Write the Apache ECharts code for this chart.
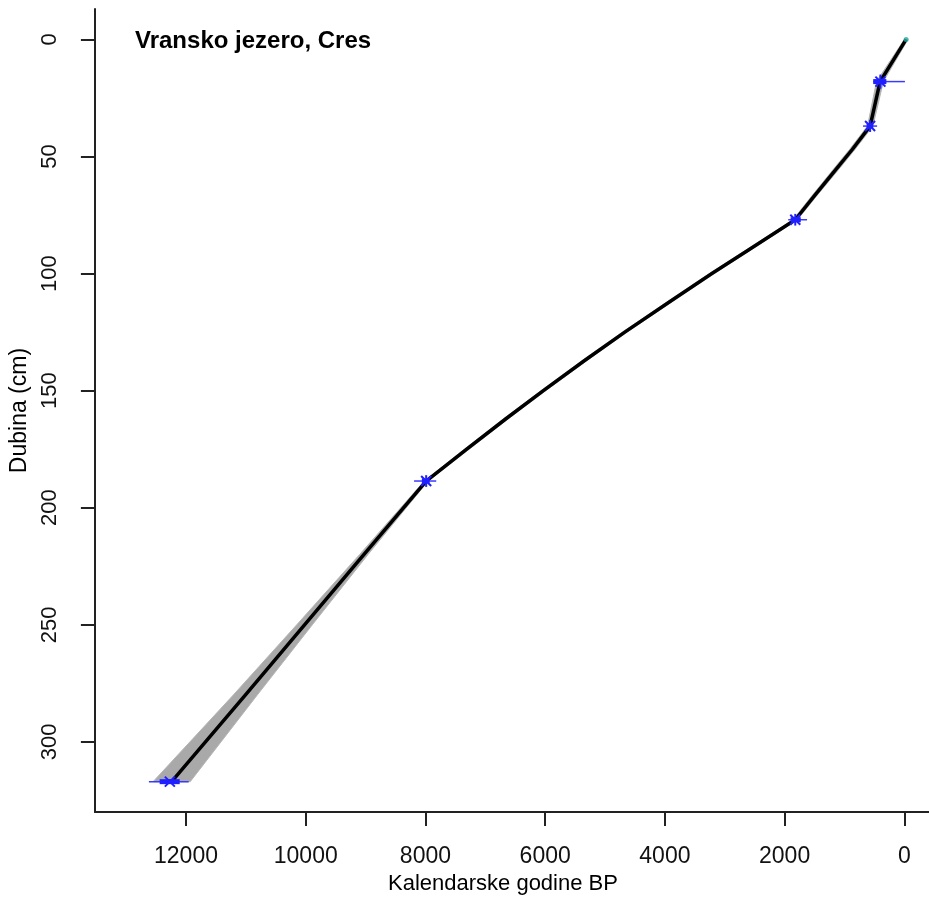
<!DOCTYPE html>
<html>
<head>
<meta charset="utf-8">
<script src="https://cdn.jsdelivr.net/npm/echarts@6/dist/echarts.min.js"></script>
<style>
html,body{margin:0;padding:0;background:#fff;}
#chart{width:929px;height:900px;}
</style>
</head>
<body>
<div id="chart"></div>
<script>
// ---- data ----
var chartTitle = 'Vransko jezero, Cres';
var xAxisTitle = 'Kalendarske godine BP';
var yAxisTitle = 'Dubina (cm)';
var xTicks = [0, 2000, 4000, 6000, 8000, 10000, 12000];
var yTicks = [0, 50, 100, 150, 200, 250, 300];

// age-depth model (best estimate)
var modelDepth = [0, 18, 37, 47, 57, 67, 77, 90, 100, 112, 125, 137, 150, 162, 175, 188.6, 220, 250, 280, 317];
var modelAge   = [-30, 405, 572, 870, 1190, 1510, 1822, 2610, 3215, 3920, 4670, 5335, 6030, 6655, 7310, 7988, 9030, 10020, 11010, 12240];
// confidence envelope (min / max age at the same depths)
var bandMin = [-60, 350, 525, 825, 1145, 1470, 1785, 2570, 3175, 3880, 4630, 5295, 5990, 6615, 7270, 7955, 8960, 9890, 10810, 11930];
var bandMax = [0, 465, 615, 915, 1235, 1550, 1860, 2650, 3255, 3960, 4710, 5375, 6070, 6695, 7350, 8020, 9100, 10150, 11210, 12550];

// dated levels
var dateDepth   = [18, 37, 77, 188.6, 317];
var dateAge     = [400, 572, 1822, 7988, 12270];
var dateRangeLo = [-10, 455, 1625, 7820, 11955];
var dateRangeHi = [520, 690, 1940, 8190, 12620];
var dateCoreLo  = [300, 520, 1730, 7930, 12105];
var dateCoreHi  = [520, 630, 1900, 8060, 12440];
var dateDepthErr = [3, 2.5, 2.5, 2.5, 1];

var surfaceAge = [-30];
var surfaceDepth = [0];

// ---- chart ----
var FONT = '"Liberation Sans", Arial, sans-serif';
var chart = echarts.init(document.getElementById('chart'), null, {renderer: 'canvas'});

var modelData = modelAge.map(function (a, i) { return [a, modelDepth[i]]; });
var dateData = dateAge.map(function (a, i) {
  return [a, dateDepth[i], dateRangeLo[i], dateRangeHi[i], dateCoreLo[i], dateCoreHi[i], dateDepthErr[i]];
});
function plain(v) { return String(v); }

var option = {
  animation: false,
  backgroundColor: '#ffffff',
  title: {
    text: chartTitle,
    left: 135,
    top: 29,
    padding: 0,
    textStyle: {fontFamily: FONT, fontSize: 24, fontWeight: 'bold', color: '#000'}
  },
  grid: {left: 93, right: 0, top: 9, bottom: 87, containLabel: false},
  xAxis: {
    type: 'value',
    inverse: true,
    min: -412,
    max: 13522,
    name: xAxisTitle,
    nameLocation: 'middle',
    nameGap: 57,
    nameTextStyle: {fontFamily: FONT, fontSize: 22, color: '#000', padding: [0, 18, 0, 0]},
    axisLine: {show: true, onZero: false, lineStyle: {color: '#222', width: 2}},
    axisTick: {show: true, inside: false, length: 14, lineStyle: {color: '#222', width: 2}, customValues: xTicks},
    axisLabel: {show: true, margin: 33, fontFamily: FONT, fontSize: 23, color: '#111', customValues: xTicks, formatter: plain},
    splitLine: {show: false}
  },
  yAxis: {
    type: 'value',
    inverse: true,
    min: -13,
    max: 330,
    name: yAxisTitle,
    nameLocation: 'middle',
    nameGap: 63,
    nameRotate: 90,
    nameTextStyle: {fontFamily: FONT, fontSize: 23, color: '#000'},
    axisLine: {show: true, onZero: false, lineStyle: {color: '#222', width: 2}},
    axisTick: {show: true, inside: false, length: 14, lineStyle: {color: '#222', width: 2}, customValues: yTicks},
    axisLabel: {show: true, rotate: 90, margin: 34, fontFamily: FONT, fontSize: 22, color: '#111', customValues: yTicks, formatter: plain},
    splitLine: {show: false}
  },
  series: [
    {
      type: 'custom',
      name: 'band',
      z: 1,
      silent: true,
      data: [[modelAge[0], modelDepth[0]]],
      renderItem: function (params, api) {
        var pts = [];
        for (var i = 0; i < modelDepth.length; i++) pts.push(api.coord([bandMin[i], modelDepth[i]]));
        for (var j = modelDepth.length - 1; j >= 0; j--) pts.push(api.coord([bandMax[j], modelDepth[j]]));
        return {
          type: 'polygon',
          shape: {points: pts},
          style: {fill: '#a9a9a9', stroke: '#b5b5b5', lineWidth: 1}
        };
      }
    },
    {
      type: 'line',
      name: 'model',
      z: 2,
      data: modelData,
      showSymbol: false,
      symbol: 'none',
      lineStyle: {color: '#000', width: 3.5, join: 'round'},
      silent: true
    },
    {
      type: 'custom',
      name: 'dates',
      z: 3,
      silent: true,
      data: dateData,
      renderItem: function (params, api) {
        var age = api.value(0), d = api.value(1);
        var lo = api.coord([api.value(2), d]), hi = api.coord([api.value(3), d]);
        var clo = api.coord([api.value(4), d]), chi = api.coord([api.value(5), d]);
        var e = api.value(6);
        var vt = api.coord([age, d - e]), vb = api.coord([age, d + e]);
        var c = api.coord([age, d]);
        return {
          type: 'group',
          children: [
            {type: 'line', shape: {x1: lo[0], y1: lo[1], x2: hi[0], y2: hi[1]}, style: {stroke: '#3a3aff', lineWidth: 1.5}},
            {type: 'line', shape: {x1: clo[0], y1: clo[1], x2: chi[0], y2: chi[1]}, style: {stroke: '#2020ff', lineWidth: 5}},
            {type: 'line', shape: {x1: vt[0], y1: vt[1], x2: vb[0], y2: vb[1]}, style: {stroke: '#2020ff', lineWidth: 2}},
            {type: 'line', shape: {x1: c[0] - 5, y1: c[1] - 5, x2: c[0] + 5, y2: c[1] + 5}, style: {stroke: '#2020ff', lineWidth: 2}},
            {type: 'line', shape: {x1: c[0] - 5, y1: c[1] + 5, x2: c[0] + 5, y2: c[1] - 5}, style: {stroke: '#2020ff', lineWidth: 2}}
          ]
        };
      }
    },
    {
      type: 'scatter',
      name: 'surface',
      z: 4,
      silent: true,
      data: surfaceAge.map(function (a, i) { return [a, surfaceDepth[i]]; }),
      symbol: 'circle',
      symbolSize: 5,
      itemStyle: {color: '#2aa7a0'}
    }
  ]
};
chart.setOption(option);
</script>
</body>
</html>
